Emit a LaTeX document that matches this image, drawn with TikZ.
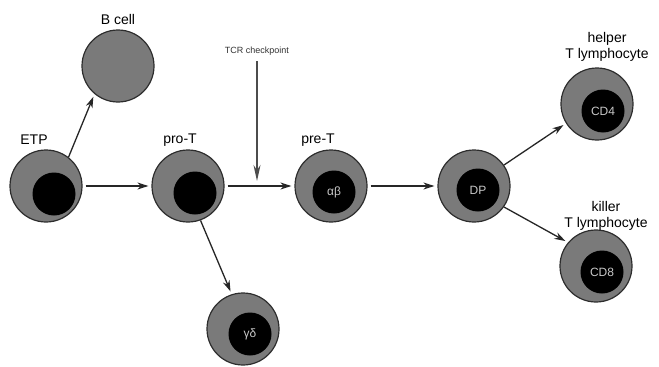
\documentclass[tikz,border=0pt]{standalone}
\usepackage{fontspec}
\setmainfont{Liberation Sans}
\usetikzlibrary{arrows.meta}
\definecolor{cellgray}{RGB}{122,122,122}
\definecolor{rimgray}{RGB}{45,45,45}
\definecolor{nucfg}{RGB}{200,200,200}
\tikzset{
  cell/.style={circle, draw=rimgray, line width=1.2pt, fill=cellgray, minimum size=72pt, inner sep=0pt},
  nucleus/.style={circle, fill=black, minimum size=43pt, inner sep=0pt, text=nucfg, font=\fontsize{12}{12}\selectfont},
  lbl/.style={font=\fontsize{14}{16}\selectfont, align=center, inner sep=0pt},
  flow/.style={-{Stealth[length=11pt,width=7pt]}, line width=1.3pt, draw=black!85, shorten <=3pt, shorten >=3pt},
  check/.style={-{Stealth[length=16pt,width=7pt]}, line width=1.6pt, draw=black!70}
}
\begin{document}
\begin{tikzpicture}[x=1pt,y=-1pt]
\useasboundingbox (0,0) rectangle (659,367);
\fill[white] (0,0) rectangle (659,367);

% cells
\node[cell] (etp) at (46,186) {};
\node[nucleus] (etpn) at (54,194) {};
\node[cell] (bcell) at (118,66) {};
\node[cell] (prot) at (188,186) {};
\node[nucleus] (protn) at (195,193) {};
\node[cell] (pret) at (331,186) {};
\node[nucleus] (pretn) at (334,192) {αβ};
\node[cell] (dp) at (474,186) {};
\node[nucleus] (dpn) at (478,190) {DP};
\node[cell] (cd4) at (597,104) {};
\node[nucleus] (cd4n) at (603,111) {CD4};
\node[cell] (cd8) at (596,266) {};
\node[nucleus] (cd8n) at (602,272) {CD8};
\node[cell] (gd) at (243,329) {};
\node[nucleus] (gdn) at (250,334) {γδ};

% labels
\node[lbl] (lbcell) at (118,19) {B cell};
\node[lbl] (letp) at (34,140) {ETP};
\node[lbl] (lprot) at (180,140) {pro-T};
\node[lbl] (lpret) at (318,140) {pre-T};
\node[lbl] (lhelper) at (607,47) {helper\\T lymphocyte};
\node[lbl] (lkiller) at (606,216) {killer\\T lymphocyte};
\node[font=\fontsize{9}{10}\selectfont, text=black!80, inner sep=1pt] (ltcr) at (257,51) {TCR checkpoint};

% connectors
\coordinate (tcrtip) at (257,181);
\draw[flow, shorten <=0pt] (etp.52) -- (bcell.230);
\draw[flow] (etp.east) -- (prot.west);
\draw[flow] (prot.east) -- (pret.west);
\draw[flow] (pret.east) -- (dp.west);
\draw[flow, shorten <=0pt] (prot.290) -- (gd.108);
\draw[flow, shorten <=0pt] (dp.35) -- (cd4.212);
\draw[flow, shorten <=0pt] (dp.325) -- (cd8.140);
\draw[check] (ltcr.south) ++(0,5) -- (tcrtip);
\end{tikzpicture}
\end{document}
